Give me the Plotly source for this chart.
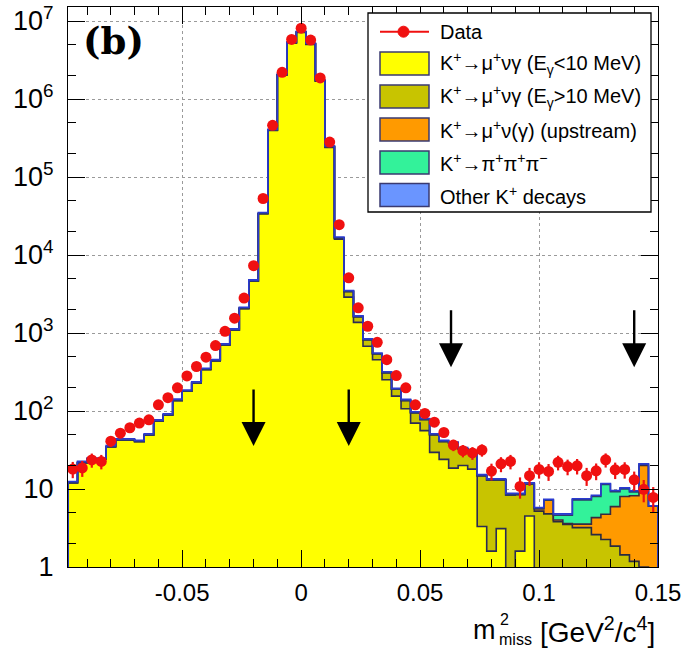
import numpy as np
import plotly.graph_objects as go

# ---------------- data (62 bins of 0.004 GeV^2/c^4 from -0.098 to 0.15) ----------------
x_min, x_max, n_bins = -0.098, 0.15, 62

data_counts = [18, 18.6, 23.6, 22.6, 41, 52, 61, 70, 77, 120,
               148, 198, 282, 372, 490, 690, 1050, 1550, 2800, 7300,
               53000, 460000, 2200000, 5800000, 8100000, 5700000, 1860000, 280000, 24500, 5100,
               2100, 1220, 760, 455, 285, 198, 120, 93, 72, 53,
               36.6, 31, 29, 31.6, 17, 21, 22.6, 10.8, 14.8, 17.8,
               16.8, 22, 19.4, 19.8, 14.8, 17.1, 23.7, 17.6, 17.8, 13.1,
               9.9, 7.8]

kmu_soft = [12.0, 21.8, 24.2, 24.2, 34.8, 42.5, 42.5, 40.6, 49.3, 74.5,
            89, 137, 180, 229, 342, 441, 701, 1093, 2070, 4640,
            33800, 396000, 2030000, 5220000, 7150000, 5020000, 1690000, 240000, 16000, 2880,
            1370, 675, 455, 252, 155, 107, 70, 56, 29.5, 24,
            18.5, 20, 18, 3.3, 1.6, 3.1, 0, 1.6, 4.5, 0,
            0, 0, 0, 0, 0, 0, 0, 0, 0, 0,
            0, 0]

kmu_hard = [0, 0, 0, 0, 0, 0, 0, 0, 0, 0,
            0, 0, 0, 0, 0, 0, 0, 0, 0, 0,
            300, 3000, 20000, 50000, 80000, 80000, 30000, 5000, 600, 540,
            250, 145, 88, 58, 35, 30, 25, 22, 20, 16.8,
            20.2, 12.8, 12, 11.5, 11.5, 10, 8.4, 6.9, 7.1, 5.2,
            4.8, 3.8, 3.5, 3.2, 3.2, 2.6, 2.25, 1.85, 1.43, 1.18,
            1.0, 0.5]

kmu_upstream = [0, 0, 0, 0, 0, 0, 0, 0, 0, 0,
                0, 0, 0, 0, 0, 0, 0, 0, 0, 0,
                0, 0, 0, 0, 0, 0, 0, 0, 0, 0,
                0, 0, 0, 0, 0, 0, 0, 0, 0, 0,
                0, 0, 0, 0, 0, 0, 0, 0, 0, 0.4,
                2.4, 0.2, 0.1, 0.35, 0.35, 1.7, 2.5, 4.1, 6.6, 7.0,
                19, 5.5]

k3pi = [0, 0, 0, 0, 0, 0, 0, 0, 0, 0,
        0, 0, 0, 0, 0, 0, 0, 0, 0, 0,
        0, 0, 0, 0, 0, 0, 0, 0, 0, 0,
        0, 0, 0, 0, 0, 0, 0, 0, 0, 0,
        0, 0, 0, 0, 0, 0, 0, 0, 0, 0,
        0, 0.6, 1.0, 3.7, 3.7, 3.7, 6.7, 3.3, 2.0, 1.0,
        0.7, 0]

other = [0.5, 0.8, 0.8, 0.8, 1.2, 1.5, 1.5, 1.4, 1.7, 2.5,
         3, 5, 6, 8, 12, 15, 24, 37, 70, 160,
         900, 11000, 50000, 130000, 170000, 100000, 30000, 5000, 400, 80,
         40, 20, 12, 8, 5, 4, 3, 2, 1.5, 1.2,
         1.3, 1.2, 1.0, 0.5, 0.4, 0.4, 0.4, 0.3, 0.4, 0.2,
         0.2, 0.2, 0.2, 0.25, 0.25, 0.3, 0.3, 0.3, 0.3, 0.3,
         0.3, 0.1]

arrow_x = [-0.02, 0.02, 0.063, 0.14]
arrow_tail = [197, 197, 2040, 2040]
arrow_tip = [35.6, 35.6, 365, 365]

y_tick_vals = [1, 10, 100, 1e3, 1e4, 1e5, 1e6, 1e7]
y_tick_text = ["1", "10", "10<sup>2</sup>", "10<sup>3</sup>", "10<sup>4</sup>",
               "10<sup>5</sup>", "10<sup>6</sup>", "10<sup>7</sup>"]
x_tick_vals = [-0.05, 0, 0.05, 0.1, 0.15]
x_tick_text = ["-0.05", "0", "0.05", "0.1", "0.15"]

labels = ["Data",
          "K<sup>+</sup>→μ<sup>+</sup>νγ (E<sub>γ</sub>&lt;10 MeV)",
          "K<sup>+</sup>→μ<sup>+</sup>νγ (E<sub>γ</sub>&gt;10 MeV)",
          "K<sup>+</sup>→μ<sup>+</sup>ν(γ) (upstream)",
          "K<sup>+</sup>→π<sup>+</sup>π<sup>+</sup>π<sup>−</sup>",
          "Other K<sup>+</sup> decays"]

# ---------------- styles ----------------
fill_colors = ["#ffff00", "#c8c400", "#ff9a00", "#33f29a", "#6a95ff"]
line_colors = ["#2b2b55", "#2b2b40", "#3a2a40", "#2b3b6a", "#2a3ad0"]
FONT = "Liberation Sans, Arial, sans-serif"

edges = np.linspace(x_min, x_max, n_bins + 1)
centers = 0.5 * (edges[:-1] + edges[1:])
floor = 0.3

fig = go.Figure()

xs = np.concatenate([[edges[0]], edges, [edges[-1]]])
fig.add_trace(go.Scatter(x=xs, y=np.full(len(xs), floor), mode="lines",
                         line=dict(width=0), line_shape="hv", showlegend=False,
                         hoverinfo="skip"))

components = [kmu_soft, kmu_hard, kmu_upstream, k3pi, other]
cum = np.zeros(n_bins)
for comp, fc, lc in zip(components, fill_colors, line_colors):
    cum = cum + np.array(comp, dtype=float)
    yv = np.maximum(cum, floor)
    ys = np.concatenate([[floor], yv, [yv[-1]], [floor]])
    fig.add_trace(go.Scatter(x=xs, y=ys, mode="lines", line_shape="hv",
                             line=dict(color=lc, width=1.6),
                             fill="tonexty", fillcolor=fc, showlegend=False,
                             hoverinfo="skip"))

dc = np.array(data_counts, dtype=float)
fig.add_trace(go.Scatter(x=centers, y=dc, mode="markers",
                         marker=dict(color="#f01010", size=11),
                         error_y=dict(type="data", array=np.sqrt(dc), color="#f01010",
                                      thickness=2.2, width=0),
                         showlegend=False))

for xa, yt, yh in zip(arrow_x, arrow_tail, arrow_tip):
    fig.add_annotation(x=xa, y=np.log10(yh), ax=xa, ay=np.log10(yt),
                       xref="x", yref="y", axref="x", ayref="y",
                       showarrow=True, arrowhead=2, arrowsize=2.0, arrowwidth=2.4,
                       arrowcolor="black", text="", standoff=0, startstandoff=0)

# ---------------- layout ----------------
W, H = 682, 648
PL, PR, PT, PB = 68, 658, 7, 567          # plot frame in pixels
pw, ph = PR - PL, PB - PT


def px(xp):
    return (xp - PL) / pw


def py(yp):
    return (PB - yp) / ph


fig.update_layout(
    width=W, height=H,
    margin=dict(l=PL, r=W - PR, t=PT, b=H - PB, pad=0),
    paper_bgcolor="white", plot_bgcolor="white",
    font=dict(family=FONT, size=26, color="black"),
    showlegend=False,
    xaxis=dict(range=[x_min, x_max], tickvals=x_tick_vals, ticktext=x_tick_text,
               ticks="inside", ticklen=17, tickwidth=1.2, tickcolor="black",
               showline=True, linecolor="black", linewidth=1.3, mirror="allticks",
               showgrid=True, gridcolor="#9a9a9a", griddash="dot", gridwidth=1,
               zeroline=False, ticklabelstandoff=4, automargin=False,
               ticklabeloverflow="allow",
               minor=dict(dtick=0.01, tick0=0, ticks="inside", ticklen=8,
                          tickcolor="black", tickwidth=1.2, showgrid=False),
               tickfont=dict(size=24)),
    yaxis=dict(type="log", range=[0, (PB - PT) / 78.0], tickvals=y_tick_vals,
               ticktext=y_tick_text,
               ticks="inside", ticklen=17, tickwidth=1.2, tickcolor="black",
               showline=True, linecolor="black", linewidth=1.3, mirror="allticks",
               showgrid=True, gridcolor="#9a9a9a", griddash="dot", gridwidth=1,
               zeroline=False, ticklabelstandoff=8, automargin=False,
               ticklabeloverflow="allow",
               minor=dict(ticks="inside", ticklen=8, tickcolor="black",
                          tickwidth=1.2, showgrid=False),
               tickfont=dict(size=27)),
)

# panel label
fig.add_annotation(x=px(81), y=py(41), xref="paper", yref="paper",
                   text="<b>(b)</b>", showarrow=False, xanchor="left", yanchor="middle",
                   font=dict(family="DejaVu Serif, Liberation Serif, serif", size=37,
                             color="black"))

# axis title: m with stacked 2 / miss, then units
fig.add_annotation(x=px(498), y=py(630), xref="paper", yref="paper", text="m",
                   showarrow=False, xanchor="right", yanchor="middle",
                   font=dict(family=FONT, size=27))
fig.add_annotation(x=px(498), y=py(619), xref="paper", yref="paper", text="2",
                   showarrow=False, xanchor="left", yanchor="middle",
                   font=dict(family=FONT, size=16))
fig.add_annotation(x=px(497), y=py(639), xref="paper", yref="paper", text="miss",
                   showarrow=False, xanchor="left", yanchor="middle",
                   font=dict(family=FONT, size=16))
fig.add_annotation(x=px(657), y=py(630), xref="paper", yref="paper",
                   text="[GeV<sup>2</sup>/c<sup>4</sup>]",
                   showarrow=False, xanchor="right", yanchor="middle",
                   font=dict(family=FONT, size=28))

# custom legend
fig.add_shape(type="rect", xref="paper", yref="paper",
              x0=px(368), x1=px(651), y0=py(212), y1=py(13),
              line=dict(color="black", width=1.3), fillcolor="white", layer="above")
row_y = [31.7, 63.5, 96.5, 129.5, 162.5, 195]
for i, (lab, yy) in enumerate(zip(labels, row_y)):
    if i == 0:
        fig.add_shape(type="line", xref="paper", yref="paper",
                      x0=px(380), x1=px(429), y0=py(yy), y1=py(yy),
                      line=dict(color="#f01010", width=2), layer="above")
        fig.add_shape(type="circle", xref="paper", yref="paper",
                      x0=px(398), x1=px(409), y0=py(yy + 5.5), y1=py(yy - 5.5),
                      line=dict(color="#f01010", width=1), fillcolor="#f01010",
                      layer="above")
    else:
        fig.add_shape(type="rect", xref="paper", yref="paper",
                      x0=px(380), x1=px(429), y0=py(yy + 11.5), y1=py(yy - 11.5),
                      line=dict(color="#3a3a70", width=1.5),
                      fillcolor=fill_colors[i - 1], layer="above")
    fig.add_annotation(x=px(438), y=py(yy), xref="paper", yref="paper",
                       text=lab, showarrow=False, xanchor="left", yanchor="middle",
                       font=dict(family=FONT, size=20, color="black"))

# remove the browser's default 8px page margin so the figure fills the window
fig.write_html("out.html", config={"displayModeBar": False},
               post_script="document.body.style.margin='0px';")
